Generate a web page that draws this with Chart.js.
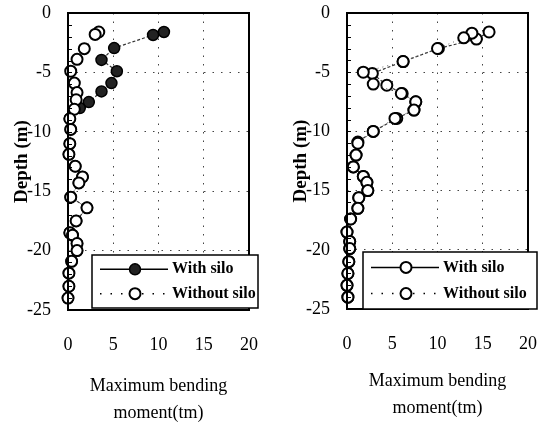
<!DOCTYPE html>
<html lang="en">
<head>
  <meta charset="UTF-8">
  <title>Maximum bending moment vs depth</title>
  <script src="https://cdn.jsdelivr.net/npm/chart.js"></script>
  <style>
    body { margin: 0; background: #fff; }
    .row { display: flex; width: 540px; height: 422px; }
    canvas { display: block; }
  </style>
</head>
<body>
  <div class="row">
    <canvas id="leftChart" width="270" height="422"></canvas>
    <canvas id="rightChart" width="270" height="422"></canvas>
  </div>

  <script>
    // left panel
    const leftWithX = [10.6, 9.4, 5.1, 3.7, 5.4, 4.8, 3.7, 2.3, 1.3, 0.2, 0.3, 0.2, 0.1, 0.8, 1.6, 1.2, 0.3, 2.1, 0.9, 0.2, 0.5, 1.0, 1.0, 0.4, 0.1, 0.1, 0.0];
    const leftWithY = [-1.6, -1.85, -2.95, -3.95, -4.9, -5.9, -6.6, -7.5, -8.0, -8.9, -9.8, -11, -11.9, -12.9, -13.8, -14.3, -15.5, -16.4, -17.5, -18.5, -18.7, -19.4, -20, -20.9, -21.9, -23, -24];
    const leftWithoutX = [3.4, 3.0, 1.8, 1.0, 0.3, 0.7, 1.0, 0.9, 0.7, 0.2, 0.3, 0.2, 0.1, 0.8, 1.6, 1.2, 0.3, 2.1, 0.9, 0.2, 0.5, 1.0, 1.0, 0.4, 0.1, 0.1, 0.0];
    const leftWithoutY = [-1.6, -1.8, -3.0, -3.9, -4.9, -5.9, -6.7, -7.3, -8.1, -8.9, -9.8, -11, -11.9, -12.9, -13.8, -14.3, -15.5, -16.4, -17.5, -18.5, -18.7, -19.4, -20, -20.9, -21.9, -23, -24];

    // right panel
    const rightWithX = [15.7, 14.3, 10.1, 6.2, 2.8, 4.4, 6.1, 7.6, 7.4, 5.5, 2.9, 1.2, 1.0, 0.7, 1.8, 2.2, 2.3, 1.3, 1.2, 0.4, 0.0, 0.3, 0.3, 0.2, 0.1, 0.0, 0.1];
    const rightWithY = [-1.6, -2.2, -3.0, -4.1, -5.1, -6.1, -6.8, -7.5, -8.2, -8.9, -10, -10.9, -12, -13, -13.8, -14.3, -15, -15.6, -16.5, -17.4, -18.5, -19.3, -19.9, -21, -22, -23, -24];
    const rightWithoutX = [13.8, 12.9, 10.0, 6.2, 1.8, 2.9, 6.0, 7.6, 7.4, 5.3, 2.9, 1.2, 1.0, 0.7, 1.8, 2.2, 2.3, 1.3, 1.2, 0.4, 0.0, 0.3, 0.3, 0.2, 0.1, 0.0, 0.1];
    const rightWithoutY = [-1.7, -2.1, -3.0, -4.1, -5.0, -6.0, -6.8, -7.5, -8.2, -8.9, -10, -11, -12, -13, -13.8, -14.3, -15, -15.6, -16.5, -17.4, -18.5, -19.3, -19.9, -21, -22, -23, -24];

    const seriesNames = ['With silo', 'Without silo'];
    const xTitle = ['Maximum bending', 'moment(tm)'];
    const yTitle = 'Depth (m)';

    const serif = 'Liberation Serif, Times New Roman, serif';

    function pts(xs, ys) {
      return xs.map((x, i) => ({ x: x, y: ys[i] }));
    }

    // frame, inward minor ticks and the boxed legend
    const framePlugin = {
      id: 'frame',
      afterDraw(chart, args, opts) {
        const { ctx, chartArea: a, scales } = chart;
        ctx.save();
        ctx.strokeStyle = '#000';
        ctx.lineWidth = 1;
        scales.y.ticks.forEach(t => {
          const py = Math.round(scales.y.getPixelForValue(t.value)) + 0.5;
          ctx.beginPath();
          ctx.moveTo(a.left, py);
          ctx.lineTo(a.left + 4, py);
          ctx.stroke();
        });
        ctx.lineWidth = 2;
        ctx.strokeRect(a.left, a.top, a.right - a.left, a.bottom - a.top);

        // legend
        const [bx, by, bw, bh] = opts.box;
        ctx.fillStyle = '#fff';
        ctx.fillRect(bx, by, bw, bh);
        ctx.lineWidth = 1.5;
        ctx.strokeRect(bx, by, bw, bh);
        const rows = [by + bh * 0.27, by + bh * 0.73];
        chart.data.datasets.forEach((ds, i) => {
          const ry = rows[i];
          ctx.strokeStyle = '#000';
          ctx.lineWidth = 1.5;
          ctx.setLineDash(i === 0 ? [] : [1.5, 9]);
          ctx.beginPath();
          ctx.moveTo(bx + 8, ry);
          ctx.lineTo(bx + 76, ry);
          ctx.stroke();
          ctx.setLineDash([]);
          ctx.beginPath();
          ctx.arc(bx + 43, ry, ds.pointRadius, 0, Math.PI * 2);
          ctx.fillStyle = ds.pointBackgroundColor;
          ctx.fill();
          ctx.lineWidth = ds.pointBorderWidth;
          ctx.strokeStyle = ds.pointBorderColor;
          ctx.stroke();
          ctx.fillStyle = '#000';
          ctx.font = 'bold 16px ' + serif;
          ctx.textBaseline = 'middle';
          ctx.fillText(seriesNames[i], bx + 80, ry);
        });
        ctx.restore();
      }
    };

    function makeChart(id, withPts, withoutPts, cfg) {
      const ctx = document.getElementById(id).getContext('2d');
      return new Chart(ctx, {
        type: 'scatter',
        data: {
          datasets: [{
            label: seriesNames[0],
            data: withPts,
            showLine: true,
            order: 2,
            clip: false,
            borderColor: '#333',
            borderWidth: 1.2,
            borderDash: [3, 2],
            pointRadius: 5.5,
            pointBorderWidth: cfg.filled ? 1.5 : 2,
            pointBackgroundColor: cfg.filled ? '#222' : '#fff',
            pointBorderColor: '#000'
          }, {
            label: seriesNames[1],
            data: withoutPts,
            showLine: true,
            order: 1,
            clip: false,
            borderColor: '#666',
            borderWidth: 1,
            borderDash: [1, 4],
            pointRadius: 5.5,
            pointBorderWidth: 2,
            pointBackgroundColor: '#fff',
            pointBorderColor: '#000'
          }]
        },
        options: {
          responsive: false,
          animation: false,
          devicePixelRatio: 1,
          layout: { padding: { left: cfg.padLeft, right: cfg.padRight, top: cfg.padTop, bottom: 0 } },
          elements: { line: { tension: 0 } },
          plugins: {
            legend: { display: false },
            tooltip: { enabled: false },
            frame: { box: cfg.box }
          },
          scales: {
            x: {
              type: 'linear',
              min: 0,
              max: 20,
              afterFit: s => { s.height = cfg.xHeight; s.paddingLeft = 0; s.paddingRight = 0; },
              ticks: { stepSize: 5, padding: 24, color: '#000', font: { family: serif, size: 18 } },
              grid: {
                drawTicks: false,
                lineWidth: 1,
                color: c => (c.tick && [5, 10, 15].includes(c.tick.value)) ? '#444' : 'rgba(0,0,0,0)'
              },
              border: { display: false, dash: [1.5, 7] },
              title: {
                display: true,
                text: xTitle,
                color: '#000',
                font: { family: serif, size: 18, lineHeight: 1.5 },
                padding: { top: 0, bottom: cfg.titleBottom }
              }
            },
            y: {
              type: 'linear',
              min: -25,
              max: 0,
              afterFit: s => { s.width = 68; s.paddingTop = 0; s.paddingBottom = 0; },
              ticks: {
                stepSize: 1,
                autoSkip: false,
                padding: 17,
                color: '#000',
                font: { family: serif, size: 18 },
                callback: v => (v % 5 === 0 ? String(v) : '')
              },
              grid: {
                drawTicks: false,
                lineWidth: 1,
                color: c => (c.tick && c.tick.value % 5 === 0 && c.tick.value !== 0 && c.tick.value !== -25) ? '#444' : 'rgba(0,0,0,0)'
              },
              border: { display: false, dash: [1.5, 7] },
              title: {
                display: true,
                text: yTitle,
                color: '#000',
                font: { family: serif, size: 19, weight: 'bold' },
                padding: { top: 11, bottom: 0 }
              }
            }
          }
        },
        plugins: [framePlugin]
      });
    }

    makeChart('leftChart', pts(leftWithX, leftWithY), pts(leftWithoutX, leftWithoutY),
      { filled: true, padLeft: 0, padRight: 21, padTop: 13, xHeight: 112, titleBottom: -4.5, box: [92, 255, 166, 53] });
    makeChart('rightChart', pts(rightWithX, rightWithY), pts(rightWithoutX, rightWithoutY),
      { filled: false, padLeft: 9, padRight: 12, padTop: 13, xHeight: 113, titleBottom: 0.5, box: [93, 252, 174, 57] });
  </script>
</body>
</html>
